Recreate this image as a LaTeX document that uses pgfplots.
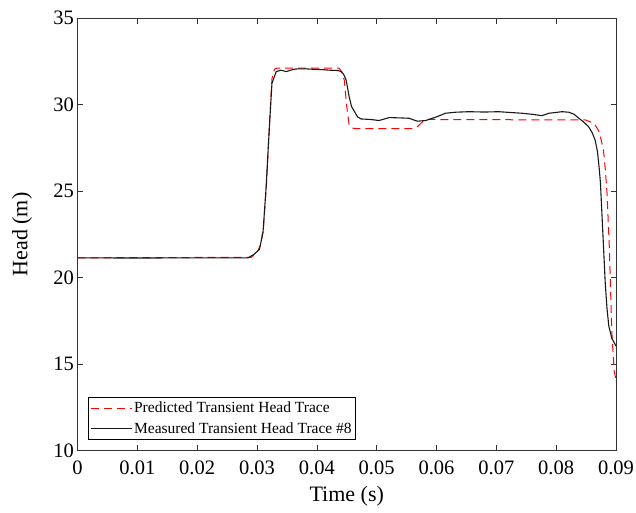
\documentclass[border=0pt]{standalone}
\usepackage{pgfplots}
\pgfplotsset{compat=1.18}
\usepackage{fontspec}
\setmainfont{Liberation Serif}
\begin{document}
\begin{tikzpicture}
\begin{axis}[
  scale only axis,
  width=538.5pt, height=432.4pt,
  xmin=0, xmax=0.09, ymin=10, ymax=35,
  scaled x ticks=false,
  xtick={0,0.01,0.02,0.03,0.04,0.05,0.06,0.07,0.08,0.09},
  xticklabels={0,0.01,0.02,0.03,0.04,0.05,0.06,0.07,0.08,0.09},
  ytick={10,15,20,25,30,35},
  tick align=inside,
  major tick length=5.5pt,
  axis line style={black!80, line width=0.6pt},
  every tick/.style={black!80, line width=0.6pt},
  tick label style={font=\fontsize{20.5}{22}\selectfont},
  xticklabel style={yshift=-7pt},
  /pgf/number format/assume math mode=true,
  xlabel={Time (s)}, ylabel={Head (m)},
  label style={font=\fontsize{22}{24}\selectfont},
  xlabel style={at={(axis description cs:0.5,-0.1041)}, anchor=center},
  ylabel style={at={(axis description cs:-0.1027,0.5)}, anchor=center},
  legend style={at={(axis description cs:0.019,0.0247)}, anchor=south west,
    draw=black, line width=0.6pt, font=\fontsize{15.5}{17}\selectfont,
    inner xsep=2pt, inner ysep=3pt, row sep=4pt, cells={anchor=west}},
  legend image code/.code={\draw[#1] (0pt,0pt) -- (41pt,0pt);},
  legend cell align=left,
]
\addplot[draw=red, line width=1.0pt, dash pattern=on 8pt off 5pt] coordinates {
(0,21.15) (0.0290,21.18) (0.0300,21.45) (0.0306,21.9) (0.0311,23.0) (0.0316,25.5)
(0.0321,29.0) (0.0325,31.5) (0.0329,32.05) (0.0333,32.12) (0.0437,32.12) (0.0442,31.9)
(0.0446,31.4) (0.0450,29.9) (0.0454,28.84) (0.0459,28.66) (0.0465,28.62) (0.0560,28.62)
(0.0567,28.7) (0.0574,28.93) (0.0580,29.12) (0.0585,29.15) (0.0849,29.12) (0.0860,28.97)
(0.0866,28.78) (0.0871,28.5) (0.0875,28.0) (0.0879,27.4) (0.0882,26.3) (0.0885,24.9)
(0.0889,21.63) (0.0893,16.85) (0.0897,14.6) (0.0900,14.1)
};
\addlegendentry{Predicted Transient Head Trace}
\addplot[draw=black!90, line width=1.1pt] coordinates {
(0,21.15) (0.0100,21.14) (0.0200,21.15) (0.0285,21.15) (0.0295,21.35) (0.0304,21.64)
(0.0310,22.6) (0.0315,25.1) (0.0321,28.9) (0.0325,31.24) (0.0332,31.91) (0.0340,32.0)
(0.0349,31.92) (0.0356,32.0) (0.0365,32.07) (0.0380,32.08) (0.0395,32.05) (0.0410,32.03)
(0.0421,32.0) (0.0435,31.98) (0.0440,31.93) (0.0445,31.75) (0.0449,31.43) (0.0454,30.47)
(0.0458,29.9) (0.0463,29.6) (0.0468,29.3) (0.0474,29.18) (0.0490,29.15) (0.0504,29.09)
(0.0521,29.26) (0.0540,29.24) (0.0554,29.22) (0.0568,29.05) (0.0582,29.09) (0.0600,29.3)
(0.0615,29.51) (0.0632,29.57) (0.0654,29.6) (0.0680,29.58) (0.0704,29.6) (0.0725,29.55)
(0.0743,29.51) (0.0760,29.45) (0.0776,29.37) (0.0788,29.51) (0.0810,29.6) (0.0821,29.57)
(0.0830,29.45) (0.0838,29.22) (0.0846,29.0) (0.0854,28.74) (0.0860,28.4) (0.0865,27.97)
(0.0869,27.3) (0.0872,26.3) (0.0874,25.47) (0.0878,22.6) (0.0882,19.7) (0.0885,18.2)
(0.0888,17.2) (0.0893,16.5) (0.0900,16.05)
};
\addlegendentry{Measured Transient Head Trace \#8}
\end{axis}
\pgfresetboundingbox
\path[use as bounding box] (-77.5pt,-62.3pt) rectangle (558.5pt,450.7pt);
\end{tikzpicture}
\end{document}
